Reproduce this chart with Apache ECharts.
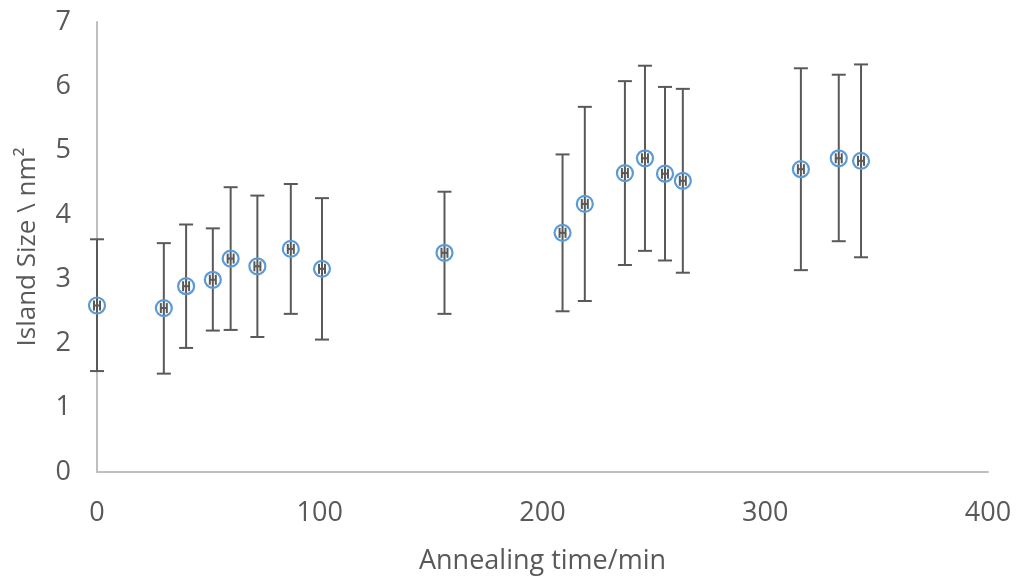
<!DOCTYPE html>
<html>
<head>
<meta charset="utf-8">
<script src="https://cdn.jsdelivr.net/npm/echarts@6/dist/echarts.min.js"></script>
<style>
  html, body { margin: 0; padding: 0; background: #fff; }
  #main { width: 1016px; height: 578px; }
</style>
</head>
<body>
<div id="main"></div>
<script>
// annealing time (min)
const times = [0, 30, 40, 52, 60, 72, 87, 101, 156, 209, 219, 237, 246, 255, 263, 316, 333, 343]
// mean island size (nm^2)
const sizes = [2.59, 2.55, 2.89, 2.99, 3.32, 3.20, 3.47, 3.16, 3.41, 3.72, 4.17, 4.65, 4.88, 4.64, 4.53, 4.71, 4.88, 4.84]
// error bar ends
const lows = [1.57, 1.53, 1.93, 2.20, 2.21, 2.10, 2.46, 2.06, 2.46, 2.50, 2.66, 3.22, 3.44, 3.29, 3.10, 3.14, 3.59, 3.34]
const highs = [3.62, 3.56, 3.85, 3.79, 4.43, 4.30, 4.48, 4.26, 4.36, 4.94, 5.68, 6.08, 6.32, 5.99, 5.96, 6.28, 6.18, 6.34]
const xTicks = [0, 100, 200, 300, 400]
const yTicks = [0, 1, 2, 3, 4, 5, 6, 7]

const font = 'Open Sans'
const textColor = '#595959'

let chart = echarts.init(document.getElementById('main'))

let points = times.map((t, i) => [t, sizes[i]])
let bars = times.map((t, i) => [t, lows[i], highs[i], sizes[i]])

function renderBar (params, api) {
  let x = api.value(0)
  let lo = api.coord([x, api.value(1)])
  let hi = api.coord([x, api.value(2)])
  let mid = api.coord([x, api.value(3)])
  let cap = 7
  let style = { stroke: '#595959', lineWidth: 2 }
  return {
    type: 'group',
    children: [
      { type: 'line', shape: { x1: lo[0], y1: lo[1], x2: hi[0], y2: hi[1] }, style: style },
      { type: 'line', shape: { x1: lo[0] - cap, y1: lo[1], x2: lo[0] + cap, y2: lo[1] }, style: style },
      { type: 'line', shape: { x1: hi[0] - cap, y1: hi[1], x2: hi[0] + cap, y2: hi[1] }, style: style },
      // tiny horizontal bar inside the marker
      { type: 'line', shape: { x1: mid[0] - 3, y1: mid[1], x2: mid[0] + 3, y2: mid[1] }, style: style },
      { type: 'line', shape: { x1: mid[0] - 3, y1: mid[1] - 5, x2: mid[0] - 3, y2: mid[1] + 5 }, style: style },
      { type: 'line', shape: { x1: mid[0] + 3, y1: mid[1] - 5, x2: mid[0] + 3, y2: mid[1] + 5 }, style: style }
    ]
  }
}

chart.setOption({
  animation: false,
  grid: {
    left: 97,
    right: 28,
    top: 22,
    bottom: 106,
    outerBoundsMode: 'none'
  },
  xAxis: {
    type: 'value',
    min: xTicks[0],
    max: xTicks[xTicks.length - 1],
    interval: 100,
    name: 'Annealing time/min',
    nameLocation: 'middle',
    nameGap: 76,
    nameTextStyle: { color: textColor, fontFamily: font, fontSize: 27 },
    axisLine: { lineStyle: { color: '#bfbfbf', width: 2 } },
    axisTick: { show: false },
    splitLine: { show: false },
    axisLabel: { color: textColor, fontFamily: font, fontSize: 27, margin: 28 }
  },
  yAxis: {
    type: 'value',
    min: yTicks[0],
    max: yTicks[yTicks.length - 1],
    interval: 1,
    name: 'Island Size \\ nm²',
    nameLocation: 'middle',
    nameGap: 56,
    nameTextStyle: { color: textColor, fontFamily: font, fontSize: 26 },
    axisLine: { show: true, lineStyle: { color: '#bfbfbf', width: 2 } },
    axisTick: { show: false },
    splitLine: { show: false },
    axisLabel: { color: textColor, fontFamily: font, fontSize: 27, margin: 26 }
  },
  series: [
    {
      type: 'custom',
      renderItem: renderBar,
      data: bars,
      encode: { x: 0, y: [1, 2] },
      z: 2
    },
    {
      type: 'scatter',
      data: points,
      symbol: 'circle',
      symbolSize: 16,
      itemStyle: { color: 'rgba(0,0,0,0)', borderColor: '#5b9bd5', borderWidth: 2.2, opacity: 1 },
      z: 3
    }
  ]
})
</script>
</body>
</html>
